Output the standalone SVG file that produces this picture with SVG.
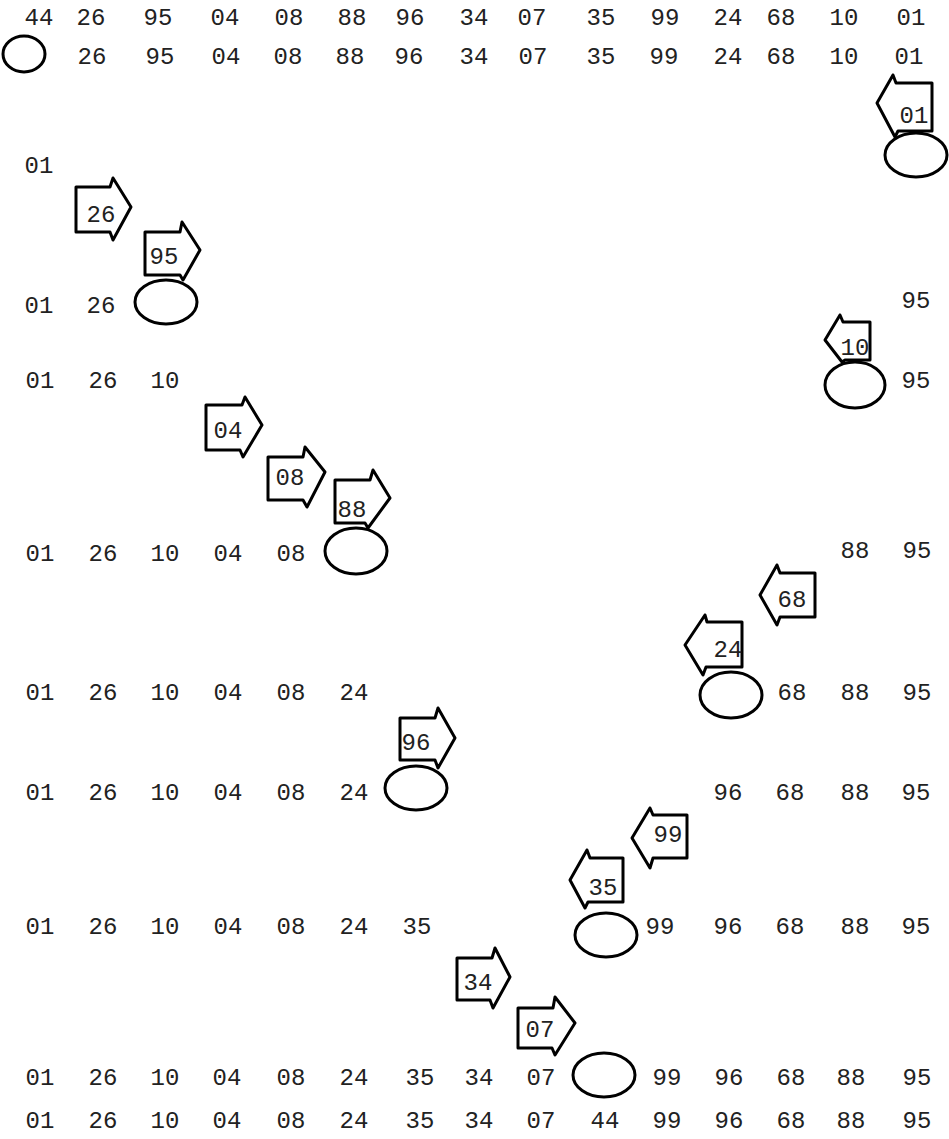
<svg xmlns="http://www.w3.org/2000/svg" width="949" height="1139" viewBox="0 0 949 1139">
<style>
text{font-family:"Liberation Mono","DejaVu Sans Mono",monospace;font-size:24px;fill:#222;text-anchor:middle}
.sh{fill:#fff;stroke:#000;stroke-width:3;stroke-linejoin:round}
.el{fill:#fff;stroke:#000;stroke-width:3}
</style>
<rect width="949" height="1139" fill="#fff"/>
<g id="connectors"/>
<g id="row1"><text x="39" y="25">44</text><text x="91" y="25">26</text><text x="158" y="25">95</text><text x="225" y="25">04</text><text x="289" y="25">08</text><text x="352" y="25">88</text><text x="410" y="25">96</text><text x="474" y="25">34</text><text x="532" y="25">07</text><text x="601" y="25">35</text><text x="665" y="25">99</text><text x="728" y="25">24</text><text x="781" y="25">68</text><text x="844" y="25">10</text><text x="911" y="25">01</text></g>
<g id="row2"><text x="92" y="64">26</text><text x="160" y="64">95</text><text x="226" y="64">04</text><text x="288" y="64">08</text><text x="350" y="64">88</text><text x="409" y="64">96</text><text x="474" y="64">34</text><text x="533" y="64">07</text><text x="601" y="64">35</text><text x="664" y="64">99</text><text x="728" y="64">24</text><text x="781" y="64">68</text><text x="844" y="64">10</text><text x="909" y="64">01</text></g>
<g id="hole1"><ellipse class="el" cx="24" cy="54" rx="21" ry="18"/></g>
<g id="p01"><path class="sh" d="M932,83 L896,83 L893,75 L877,103 L895,137 L898,131 L932,131 Z"/><text x="914" y="123">01</text></g>
<g id="hole2"><ellipse class="el" cx="916" cy="155" rx="31" ry="22"/></g>
<g id="row3"><text x="39" y="173">01</text></g>
<g id="p26"><path class="sh" d="M76,187 L110,187 L113,178 L131,207 L113,240 L110,232 L76,232 Z"/><text x="101" y="222">26</text></g>
<g id="p95"><path class="sh" d="M145,232 L180,232 L182,222 L200,250 L183,280 L180,275 L145,275 Z"/><text x="164" y="264">95</text></g>
<g id="hole3"><ellipse class="el" cx="166" cy="302" rx="31" ry="22"/></g>
<g id="row4"><text x="39" y="313">01</text><text x="101" y="313">26</text><text x="916" y="308">95</text></g>
<g id="p10"><path class="sh" d="M870,322 L843,322 L840,315 L825,340 L842,362 L845,360 L870,360 Z"/><text x="855" y="355">10</text></g>
<g id="hole4"><ellipse class="el" cx="855" cy="385" rx="30" ry="23"/></g>
<g id="row5"><text x="40" y="388">01</text><text x="103" y="388">26</text><text x="165" y="388">10</text><text x="916" y="388">95</text></g>
<g id="p04"><path class="sh" d="M206,405 L242,405 L245,397 L262,425 L243,457 L240,450 L206,450 Z"/><text x="228" y="438">04</text></g>
<g id="p08"><path class="sh" d="M268,457 L303,457 L305,447 L325,472 L307,507 L303,500 L268,500 Z"/><text x="290" y="485">08</text></g>
<g id="p88"><path class="sh" d="M335,480 L370,480 L373,470 L390,498 L368,528 L365,523 L335,523 Z"/><text x="352" y="517">88</text></g>
<g id="hole5"><ellipse class="el" cx="356" cy="551" rx="31" ry="23"/></g>
<g id="row6"><text x="40" y="561">01</text><text x="103" y="561">26</text><text x="165" y="561">10</text><text x="228" y="561">04</text><text x="291" y="561">08</text><text x="855" y="558">88</text><text x="917" y="558">95</text></g>
<g id="p68"><path class="sh" d="M815,573 L780,573 L777,565 L760,595 L777,625 L780,617 L815,617 Z"/><text x="792" y="607">68</text></g>
<g id="p24"><path class="sh" d="M742,622 L707,622 L705,615 L685,645 L703,675 L706,667 L742,667 Z"/><text x="728" y="657">24</text></g>
<g id="hole6"><ellipse class="el" cx="731" cy="695" rx="31" ry="23"/></g>
<g id="row7"><text x="40" y="700">01</text><text x="103" y="700">26</text><text x="165" y="700">10</text><text x="228" y="700">04</text><text x="291" y="700">08</text><text x="354" y="700">24</text><text x="792" y="700">68</text><text x="855" y="700">88</text><text x="917" y="700">95</text></g>
<g id="p96"><path class="sh" d="M400,718 L435,718 L438,708 L455,738 L438,768 L435,760 L400,760 Z"/><text x="416" y="750">96</text></g>
<g id="hole7"><ellipse class="el" cx="416" cy="788" rx="31" ry="22"/></g>
<g id="row8"><text x="40" y="800">01</text><text x="103" y="800">26</text><text x="165" y="800">10</text><text x="228" y="800">04</text><text x="291" y="800">08</text><text x="354" y="800">24</text><text x="728" y="800">96</text><text x="790" y="800">68</text><text x="855" y="800">88</text><text x="916" y="800">95</text></g>
<g id="p99"><path class="sh" d="M687,815 L653,815 L650,808 L632,838 L650,868 L653,858 L687,858 Z"/><text x="668" y="842">99</text></g>
<g id="p35"><path class="sh" d="M623,858 L590,858 L587,850 L570,880 L585,908 L588,902 L623,902 Z"/><text x="603" y="895">35</text></g>
<g id="hole8"><ellipse class="el" cx="606" cy="935" rx="31" ry="22"/></g>
<g id="row9"><text x="40" y="934">01</text><text x="103" y="934">26</text><text x="165" y="934">10</text><text x="228" y="934">04</text><text x="291" y="934">08</text><text x="354" y="934">24</text><text x="417" y="934">35</text><text x="660" y="934">99</text><text x="728" y="934">96</text><text x="790" y="934">68</text><text x="855" y="934">88</text><text x="916" y="934">95</text></g>
<g id="p34"><path class="sh" d="M457,958 L492,958 L495,948 L510,977 L493,1008 L490,1000 L457,1000 Z"/><text x="478" y="990">34</text></g>
<g id="p07"><path class="sh" d="M518,1008 L553,1008 L555,997 L575,1023 L555,1055 L552,1048 L518,1048 Z"/><text x="540" y="1037">07</text></g>
<g id="hole9"><ellipse class="el" cx="604" cy="1075" rx="31" ry="22"/></g>
<g id="row10"><text x="40" y="1085">01</text><text x="103" y="1085">26</text><text x="165" y="1085">10</text><text x="227" y="1085">04</text><text x="291" y="1085">08</text><text x="354" y="1085">24</text><text x="420" y="1085">35</text><text x="479" y="1085">34</text><text x="541" y="1085">07</text><text x="667" y="1085">99</text><text x="729" y="1085">96</text><text x="791" y="1085">68</text><text x="851" y="1085">88</text><text x="917" y="1085">95</text></g>
<g id="row11"><text x="40" y="1128">01</text><text x="103" y="1128">26</text><text x="165" y="1128">10</text><text x="227" y="1128">04</text><text x="291" y="1128">08</text><text x="354" y="1128">24</text><text x="420" y="1128">35</text><text x="479" y="1128">34</text><text x="541" y="1128">07</text><text x="605" y="1128">44</text><text x="667" y="1128">99</text><text x="729" y="1128">96</text><text x="791" y="1128">68</text><text x="851" y="1128">88</text><text x="917" y="1128">95</text></g>
</svg>
